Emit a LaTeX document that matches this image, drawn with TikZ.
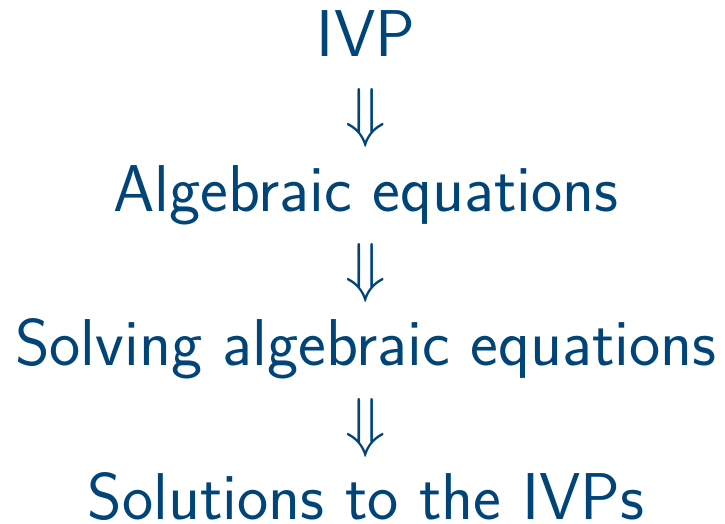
\documentclass[tikz,border=0pt]{standalone}
\usepackage{fix-cm}
\definecolor{ivpblue}{RGB}{0,68,120}
\begin{document}
\begin{tikzpicture}[x=0.5pt,y=0.5pt,font=\sffamily\fontsize{33.1}{40}\selectfont,color=ivpblue,inner sep=0pt]
\useasboundingbox (0,0) rectangle (725,524);
\node[anchor=base] (ivp) at (366,467){IVP};
\node (ar1) at (366,406){$\Downarrow$};
\node[anchor=base] (alg) at (366,312){Algebraic equations};
\node (ar2) at (366,251){$\Downarrow$};
\node[anchor=base] (solv) at (366,158){Solving algebraic equations};
\node (ar3) at (366,96){$\Downarrow$};
\node[anchor=base] (sol) at (366,4){Solutions to the IVPs};
\end{tikzpicture}
\end{document}
